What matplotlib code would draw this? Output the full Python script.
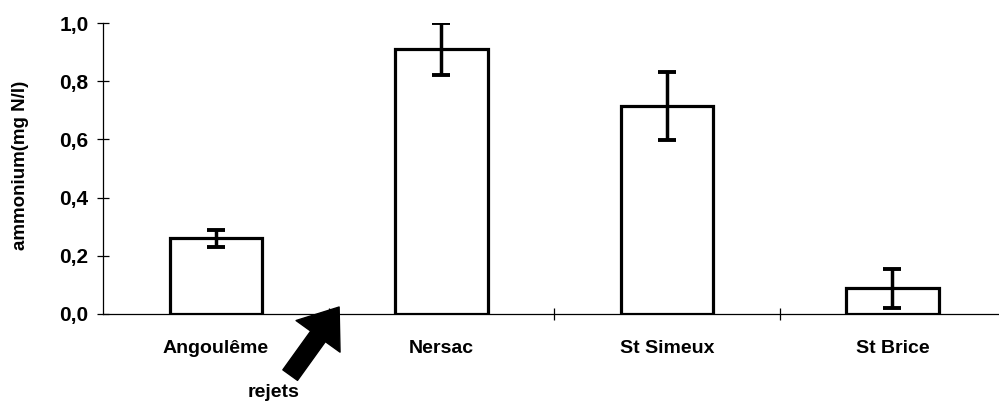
import matplotlib
matplotlib.use("Agg")
import matplotlib.pyplot as plt
from matplotlib.ticker import FuncFormatter

plt.rcParams['font.family'] = ['Liberation Sans', 'DejaVu Sans']

sites = ["Angoulême", "Nersac", "St Simeux", "St Brice"]
ammonium = [0.26, 0.91, 0.715, 0.088]
errors = [0.03, 0.09, 0.117, 0.067]
yticks = [0.0, 0.2, 0.4, 0.6, 0.8, 1.0]

fig = plt.figure(figsize=(9.99, 4.04), dpi=100)
ax = fig.add_axes([103/999, 90/404, 1 - 103/999, 291/404])

x = list(range(len(sites)))
ax.bar(x, ammonium, width=0.41, color='white', edgecolor='black', linewidth=2.3, zorder=2)
ax.errorbar(x, ammonium, yerr=errors, fmt='none', ecolor='black', elinewidth=2.5,
            capsize=6.5, capthick=2.8, zorder=3)

ax.set_xlim(-0.5, 3.473)
ax.set_ylim(0, 1.0)
for s in ['top', 'right']:
    ax.spines[s].set_visible(False)
ax.spines['left'].set_linewidth(0.9)
ax.spines['bottom'].set_linewidth(0.9)

ax.set_yticks(yticks)
ax.yaxis.set_major_formatter(FuncFormatter(lambda v, p: f"{v:.1f}".replace('.', ',')))
ax.tick_params(axis='y', direction='inout', length=9, width=0.9, labelsize=15, pad=6)
for lbl in ax.get_yticklabels():
    lbl.set_fontweight('bold')

ax.set_xticks([0.5, 1.5, 2.5])
ax.set_xticklabels([])
ax.tick_params(axis='x', which='major', direction='inout', length=9, width=0.9)
ax.set_xticks(x, minor=True)
ax.set_xticklabels(sites, minor=True, fontsize=14, fontweight='bold')
ax.tick_params(axis='x', which='minor', length=0, pad=19)

ax.set_ylabel("ammonium(mg N/l)", fontsize=13.5, fontweight='bold')
ax.yaxis.set_label_coords(-0.083, 0.51)

ax.annotate("", xy=(0.547, 0.024), xytext=(0.33, -0.21), xycoords='data',
            textcoords='data', annotation_clip=False,
            arrowprops=dict(arrowstyle='simple,head_length=1.0,head_width=1.5,tail_width=0.5',
                            fc='black', ec='black', mutation_scale=26, shrinkA=0, shrinkB=0))
ax.text(0.258, -0.27, "rejets", fontsize=14, fontweight='bold', ha='center', va='center',
        clip_on=False)

fig.savefig("out.png", dpi=100)
